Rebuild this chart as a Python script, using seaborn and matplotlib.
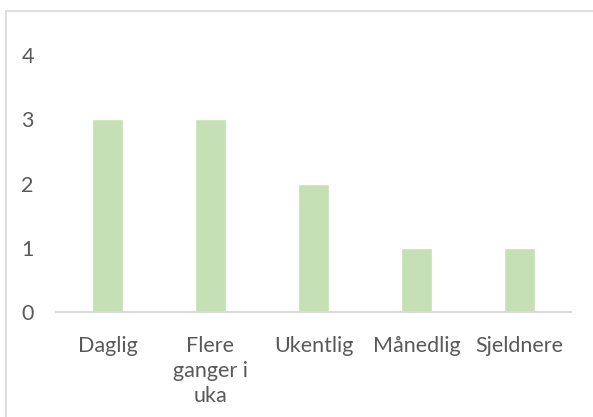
import matplotlib
matplotlib.use("Agg")
import matplotlib.pyplot as plt
import seaborn as sns
import pandas as pd
from matplotlib.lines import Line2D

# data
categories = ["Daglig", "Flere\nganger i\nuka", "Ukentlig", "Månedlig", "Sjeldnere"]
values = [3, 3, 2, 1, 1]
y_ticks = [0, 1, 2, 3, 4]

sns.set_style("white")
plt.rcParams["font.family"] = ["Lato", "DejaVu Sans"]

df = pd.DataFrame({"kategori": categories, "antall": values})

fig = plt.figure(figsize=(5.93, 4.17), dpi=100)
ax = fig.add_axes([56 / 593, 105 / 417, 515 / 593, 257 / 417])

sns.barplot(data=df, x="kategori", y="antall", color="#C5E0B4",
            width=0.31, saturation=1, ax=ax)

ax.set_ylim(0, 4)
ax.set_yticks(y_ticks)
ax.set_xlabel("")
ax.set_ylabel("")

for side in ["top", "right", "left"]:
    ax.spines[side].set_visible(False)
ax.spines["bottom"].set_color("#D9D9D9")
ax.spines["bottom"].set_linewidth(1.5)

ax.tick_params(axis="both", length=0, labelsize=15.5, colors="#595959")
ax.tick_params(axis="y", pad=16)
ax.tick_params(axis="x", pad=17)
for lbl in ax.get_xticklabels():
    lbl.set_linespacing(1.32)

# chart frame (top and left edges)
fig.add_artist(Line2D([6 / 593, 1], [1 - 11 / 417, 1 - 11 / 417],
                      transform=fig.transFigure, color="#D9D9D9", lw=1.2))
fig.add_artist(Line2D([6 / 593, 6 / 593], [0, 1 - 11 / 417],
                      transform=fig.transFigure, color="#D9D9D9", lw=1.2))

plt.savefig("out.png", dpi=100)
